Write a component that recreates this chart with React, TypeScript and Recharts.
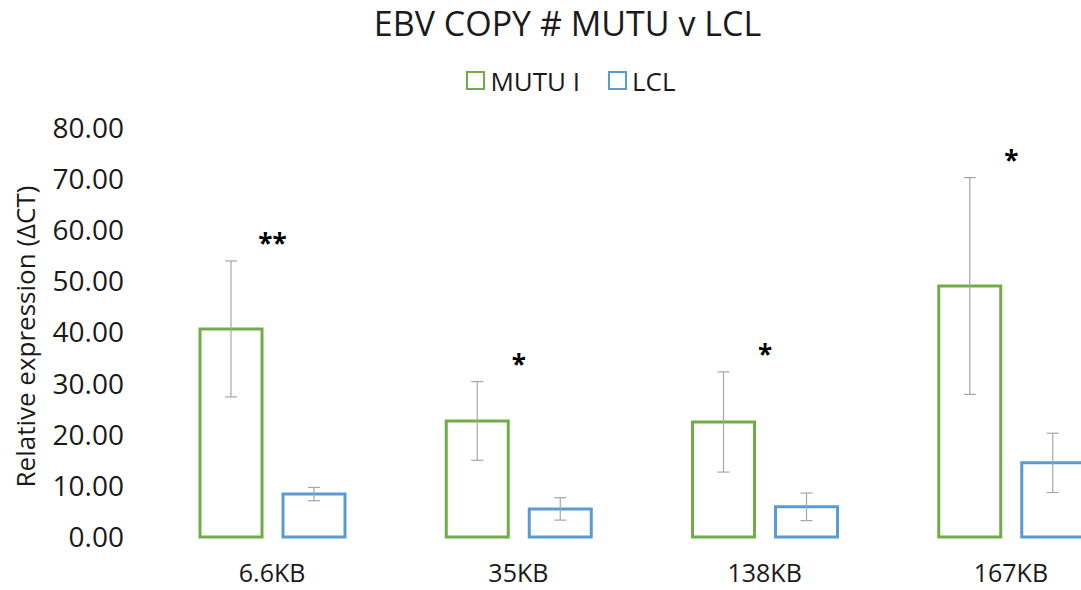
import { BarChart, Bar, XAxis, YAxis, ErrorBar, LabelList } from 'recharts';

const categories = ['6.6KB', '35KB', '138KB', '167KB'];
const mutu = [40.7, 22.7, 22.5, 49.1];
const mutuErr = [13.3, 7.7, 9.8, 21.2];
const lcl = [8.4, 5.5, 5.9, 14.5];
const lclErr = [1.3, 2.2, 2.7, 5.8];
const sig = ['**', '*', '*', '*'];
const yTicks = [0, 10, 20, 30, 40, 50, 60, 70, 80];

const GREEN = '#70ad47';
const BLUE = '#5b9bd5';
const FONT = '"Open Sans", "Noto Sans", sans-serif';
const TEXT = '#1a1a1a';
const BAR_GAP = 21;

const data = categories.map((c, i) => ({
  name: c,
  mutu: mutu[i],
  mutuErr: mutuErr[i],
  lcl: lcl[i],
  lclErr: lclErr[i],
  sig: sig[i],
}));

// asterisks above the MUTU error bar, centred on the category
const renderStars = (props: any) => {
  const { x, y, width, height, index, value } = props;
  const pxPerUnit = Number(height) / mutu[index];
  const errTop = Number(y) - mutuErr[index] * pxPerUnit;
  return (
    <text
      x={Number(x) + Number(width) + BAR_GAP / 2}
      y={errTop - 8}
      textAnchor="middle"
      fontSize={26}
      fontWeight="bold"
      fill="#000"
      fontFamily={FONT}
    >
      {value}
    </text>
  );
};

const LegendItem = ({ color, label }: { color: string; label: string }) => (
  <span style={{ display: 'inline-flex', alignItems: 'center', margin: '0 14px' }}>
    <span
      style={{
        display: 'inline-block',
        width: 15,
        height: 15,
        border: `2.5px solid ${color}`,
        marginRight: 5,
      }}
    />
    <span>{label}</span>
  </span>
);

export default function App() {
  return (
    <div
      style={{
        position: 'absolute',
        left: 0,
        top: 0,
        width: 1081,
        height: 590,
        overflow: 'hidden',
        background: '#fff',
        fontFamily: FONT,
        color: TEXT,
      }}
    >
      <div style={{ position: 'absolute', top: 0, left: 0, width: 1135, textAlign: 'center', fontSize: 34 }}>
        EBV COPY # MUTU v LCL
      </div>
      <div
        style={{
          position: 'absolute',
          top: 62,
          left: 0,
          width: 1142,
          textAlign: 'center',
          fontSize: 26,
        }}
      >
        <LegendItem color={GREEN} label="MUTU I" />
        <LegendItem color={BLUE} label="LCL" />
      </div>
      <BarChart
        width={1140}
        height={590}
        data={data}
        margin={{ top: 128, right: 6, bottom: 0, left: 0 }}
        barGap={BAR_GAP}
        barCategoryGap="20%"
      >
        <XAxis
          dataKey="name"
          axisLine={false}
          tickLine={false}
          height={53}
          tickMargin={21}
          tick={{ fontSize: 25, fill: TEXT, fontFamily: FONT }}
        />
        <YAxis
          width={149}
          domain={[0, 80]}
          ticks={yTicks}
          axisLine={false}
          tickLine={false}
          tickMargin={19}
          tickFormatter={(v: number) => v.toFixed(2)}
          tick={{ fontSize: 28, fill: TEXT, fontFamily: FONT }}
          label={{
            value: 'Relative expression (ΔCT)',
            angle: -90,
            position: 'insideLeft',
            dx: 21,
            dy: 4,
            style: { fontSize: 26, fill: TEXT, fontFamily: FONT, textAnchor: 'middle' },
          }}
        />
        <Bar dataKey="mutu" fill="#fff" stroke={GREEN} strokeWidth={3} barSize={62} isAnimationActive={false}>
          <ErrorBar dataKey="mutuErr" width={6} stroke="#a6a6a6" strokeWidth={1.2} />
          <LabelList dataKey="sig" content={renderStars} />
        </Bar>
        <Bar dataKey="lcl" fill="#fff" stroke={BLUE} strokeWidth={3} barSize={62} isAnimationActive={false}>
          <ErrorBar dataKey="lclErr" width={6} stroke="#a6a6a6" strokeWidth={1.2} />
        </Bar>
      </BarChart>
    </div>
  );
}
